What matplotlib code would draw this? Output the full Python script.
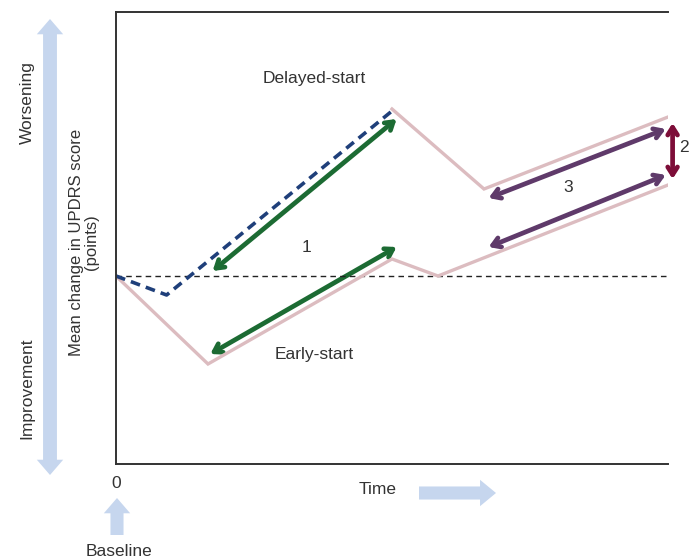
import matplotlib
matplotlib.use("Agg")
import matplotlib.pyplot as plt
from matplotlib.patches import FancyArrowPatch

# ---------------------------------------------------------------------------
# Data (time in arbitrary units, change in points relative to baseline)
# ---------------------------------------------------------------------------
early_t = [0, 2.0, 6.0, 7.0, 12.0]
early_y = [0, -8.8, 1.7, 0.0, 9.1]

delayed_t = [6.0, 8.0, 12.0]
delayed_y = [16.7, 8.7, 15.9]

placebo_t = [0, 1.1, 6.0]
placebo_y = [0, -1.9, 16.5]

# double-headed arrows: (t0, y0, t1, y1)
green_arrows = [(2.1, 0.5, 6.1, 15.7), (2.05, -7.8, 6.1, 2.9)]
purple_arrows = [(8.1, 7.8, 11.95, 14.7), (8.1, 2.9, 11.95, 10.1)]
red_arrow = (12.1, 9.7, 12.1, 15.3)

PINK = "#dcbcc0"
BLUE = "#1f3f7a"
GREEN = "#1c6b33"
PURPLE = "#5f3a6a"
RED = "#7d0d38"
LIGHT = "#c6d6ee"
TXT = "#333333"

plt.rcParams.update({
    "font.family": ["Liberation Sans", "DejaVu Sans"],
    "font.size": 12.5,
    "text.color": TXT,
})

W, H = 690, 559
fig = plt.figure(figsize=(W / 100, H / 100), dpi=100)
ax = fig.add_axes([116 / W, (H - 464) / H, 552 / W, 452 / H])
ax.set_xlim(0, 12)
ax.set_ylim(-18.8, 26.4)

# baseline reference
ax.axhline(0, color="#222222", lw=1.0, ls=(0, (4, 3)))

ax.plot(early_t, early_y, color=PINK, lw=2.4, solid_joinstyle="miter")
ax.plot(delayed_t, delayed_y, color=PINK, lw=2.4, solid_joinstyle="miter")
ax.plot(placebo_t, placebo_y, color=BLUE, lw=2.6, ls=(0, (2.7, 1.7)))


def dbl_arrow(seg, color):
    t0, y0, t1, y1 = seg
    a = FancyArrowPatch((t0, y0), (t1, y1),
                        arrowstyle="<->,head_length=0.55,head_width=0.35",
                        mutation_scale=10, color=color, lw=3.4,
                        shrinkA=0, shrinkB=0, clip_on=False)
    ax.add_patch(a)


for s in green_arrows:
    dbl_arrow(s, GREEN)
for s in purple_arrows:
    dbl_arrow(s, PURPLE)
dbl_arrow(red_arrow, RED)

# labels inside plot
ax.text(4.3, 19.7, "Delayed-start", ha="center", va="center")
ax.text(4.3, -7.9, "Early-start", ha="center", va="center")
ax.text(4.15, 2.9, "1", ha="center", va="center")
ax.text(9.83, 8.8, "3", ha="center", va="center")
ax.text(12.35, 12.8, "2", ha="center", va="center")

# axes styling
for side in ["left", "bottom", "top"]:
    ax.spines[side].set_linewidth(1.4)
    ax.spines[side].set_color("#333333")
ax.spines["right"].set_visible(False)
ax.set_xticks([0])
ax.set_xticklabels(["0"])
ax.set_yticks([])
ax.tick_params(axis="x", length=0, pad=9, labelsize=12.5, labelcolor=TXT)

# figure-level annotations (pixel positions)
def fx(px):
    return px / W


def fy(py):
    return 1 - py / H


def big_arrow(p0, p1, tail, head_w, head_l):
    style = f"simple,tail_width={tail},head_width={head_w},head_length={head_l}"
    fig.patches.append(FancyArrowPatch((fx(p0[0]), fy(p0[1])), (fx(p1[0]), fy(p1[1])),
                                       transform=fig.transFigure, arrowstyle=style,
                                       mutation_scale=1, color=LIGHT, lw=0,
                                       shrinkA=0, shrinkB=0))


big_arrow((50, 247), (50, 19), 10, 19, 11)
big_arrow((50, 247), (50, 475), 10, 19, 11)
big_arrow((117, 535), (117, 498), 9.4, 19, 11)
big_arrow((419, 493), (496, 493), 9.4, 19, 11.5)

fig.text(fx(27), fy(103), "Worsening", rotation=90, ha="center", va="center")
fig.text(fx(27), fy(388), "Improvement", rotation=90, ha="center", va="center")
fig.text(fx(84), fy(242), "Mean change in UPDRS score\n(points)", rotation=90,
         ha="center", va="center", linespacing=1.0, fontsize=12)
fig.text(fx(378), fy(490), "Time", ha="center", va="center")
fig.text(fx(119), fy(551), "Baseline", ha="center", va="center")

fig.savefig("out.png", dpi=100)
